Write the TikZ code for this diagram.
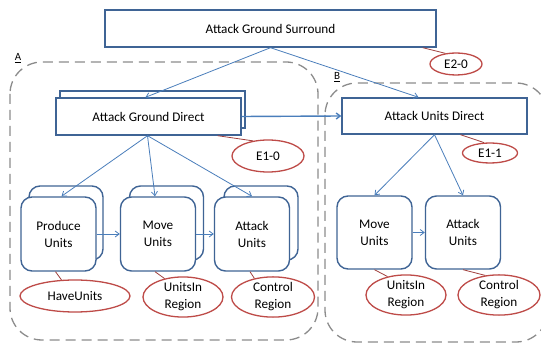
\documentclass[tikz,border=0pt]{standalone}
\usepackage{fontspec}
\setmainfont{Carlito}
\usetikzlibrary{shapes.geometric,arrows.meta}
\definecolor{boxblue}{HTML}{3F6495}
\definecolor{arrblue}{HTML}{4A7EBB}
\definecolor{ellred}{HTML}{BE4B48}
\definecolor{grpgray}{HTML}{8C8C8C}
\begin{document}
\begin{tikzpicture}[x=1pt,y=-1pt,
  every node/.style={font=\fontsize{13.2}{17}\selectfont, align=center, inner sep=0pt},
  box/.style={draw=boxblue, line width=1.4pt, fill=white, rectangle},
  rbox/.style={box, rounded corners=11pt, minimum width=75pt, minimum height=74pt},
  ell/.style={draw=ellred, line width=1.3pt, fill=white, ellipse},
  arr/.style={draw=arrblue, line width=0.8pt, -{Straight Barb[length=4pt,width=6pt]}},
  link/.style={draw=ellred!85!black, line width=0.8pt},
  grp/.style={draw=grpgray, line width=1.3pt, dash pattern=on 10pt off 6pt, rounded corners=32pt},
  lbl/.style={font=\fontsize{11}{12}\selectfont}
]
\useasboundingbox (0,0) rectangle (541,344);
\clip (0,0) rectangle (541,344);
\fill[white] (0,0) rectangle (541,344);

% groups
\draw[grp] (10,62) rectangle (318,340);
\draw[grp] (325,83) rectangle (548,342);
\node[lbl] (la) at (18,58) {\underline{A}};
\node[lbl] (lb) at (337,77) {\underline{B}};

% top
\node[box, minimum width=331pt, minimum height=37pt] (top) at (270.5,28.5) {Attack Ground Surround};
\node[ell, minimum width=52pt, minimum height=22pt] (e20) at (456,64) {E2-0};

% Attack Ground Direct
\node[box, minimum width=185pt, minimum height=37pt] (agdb) at (152.5,109.5) {};
\node[box, minimum width=185pt, minimum height=37pt] (agd) at (148.5,116.5) {Attack Ground Direct};
\node[ell, minimum width=72pt, minimum height=32pt] (e10) at (268,156) {E1-0};

% Attack Units Direct
\node[box, minimum width=185pt, minimum height=36pt] (aud) at (434.5,116) {Attack Units Direct};
\node[ell, minimum width=55pt, minimum height=20pt] (e11) at (490,153) {E1-1};

% group A boxes
\node[rbox, minimum width=74pt] (pub) at (66,223) {};
\node[rbox] (pu) at (58.5,234) {Produce\\Units};
\node[rbox, minimum width=74pt] (mub) at (166.5,223) {};
\node[rbox] (mu) at (158,234) {Move\\Units};
\node[rbox, minimum width=74pt] (aub) at (261,223) {};
\node[rbox] (au) at (252,234) {Attack\\Units};

% group B boxes
\node[rbox, minimum height=73pt] (mu2) at (374.5,232.5) {Move\\Units};
\node[rbox, minimum height=73pt] (au2) at (463,232.5) {Attack\\Units};

% ellipses
\node[ell, minimum width=110pt, minimum height=32pt] (have) at (75,296) {HaveUnits};
\node[ell, minimum width=80pt, minimum height=33pt] (uir) at (183,297) {UnitsIn\\Region};
\node[ell, minimum width=83pt, minimum height=33pt] (cr) at (273,297) {Control\\Region};
\node[ell, minimum width=80pt, minimum height=34pt] (uir2) at (406,295) {UnitsIn\\Region};
\node[ell, minimum width=82pt, minimum height=34pt] (cr2) at (499,295) {Control\\Region};

% arrows
\draw[arr] (top.south) -- ([xshift=-3pt]agd.north);
\draw[arr] (top.south) -- ([xshift=-16pt]aud.north);
\draw[arr, line width=1.4pt] (agd.east) -- (aud.west);
\draw[arr] ([xshift=-1pt]agd.south) -- ([xshift=3pt]pu.north);
\draw[arr] ([xshift=-1pt]agd.south) -- ([xshift=-3pt]mu.north);
\draw[arr] ([xshift=-1pt]agd.south) -- (au.north);
\draw[arr] (pu.east) -- (mu.west);
\draw[arr] (mu.east) -- (au.west);
\draw[arr] (aud.south) -- (mu2.north);
\draw[arr] (aud.south) -- (au2.north);
\draw[arr] (mu2.east) -- (au2.west);

% links
\draw[link] ([xshift=-14pt]top.south east) -- (e20.135);
\draw[link] ([xshift=-24pt]agd.south east) -- (e10.135);
\draw[link] ([xshift=26pt]aud.south) -- (e11.120);
\draw[link] ([xshift=-3pt]pu.south) -- (have.130);
\draw[link] ([xshift=-3pt]mu.south) -- (uir.135);
\draw[link] ([xshift=-2pt]au.south) -- (cr.135);
\draw[link] (mu2.south) -- (uir2.135);
\draw[link] (au2.south) -- (cr2.125);
\end{tikzpicture}
\end{document}
